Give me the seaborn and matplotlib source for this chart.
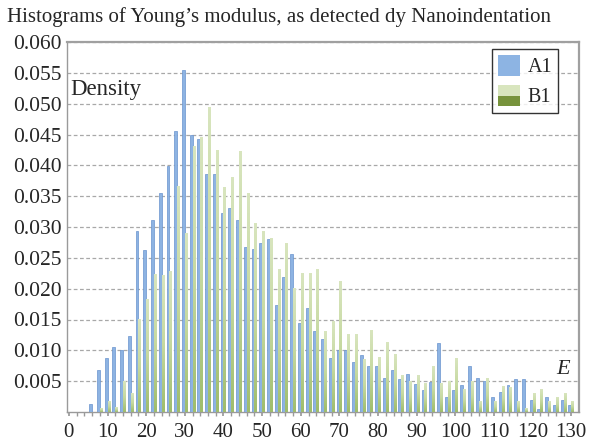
import numpy as np
import pandas as pd
import matplotlib
matplotlib.use("Agg")
import matplotlib.pyplot as plt
import seaborn as sns
from matplotlib.patches import Rectangle
from matplotlib.legend_handler import HandlerBase
from matplotlib.colors import LinearSegmentedColormap, to_rgb

# ---------------- data ----------------
E = list(range(0, 132, 2))
A1 = [0, 0, 0, 0.0013, 0.0068, 0.0088, 0.0105, 0.0100, 0.0124, 0.0293,
      0.0262, 0.0311, 0.0355, 0.0399, 0.0455, 0.0554, 0.0450, 0.0442, 0.0386, 0.0386,
      0.0323, 0.0331, 0.0312, 0.0268, 0.0264, 0.0274, 0.0280, 0.0174, 0.0219, 0.0256,
      0.0145, 0.0169, 0.0131, 0.0118, 0.0088, 0.0100, 0.0101, 0.0081, 0.0093, 0.0074,
      0.0074, 0.0055, 0.0068, 0.0054, 0.0062, 0.0046, 0.0036, 0.0048, 0.0112, 0.0024,
      0.0036, 0.0044, 0.0074, 0.0055, 0.0050, 0.0024, 0.0032, 0.0044, 0.0054, 0.0054,
      0.0019, 0.0005, 0.0024, 0.0012, 0.0019, 0.0012]
B1 = [0, 0, 0, 0, 0.0005, 0.0017, 0.0008, 0.0050, 0.0030, 0.0150,
      0.0183, 0.0223, 0.0222, 0.0228, 0.0365, 0.0290, 0.0431, 0.0445, 0.0493, 0.0424,
      0.0364, 0.0380, 0.0423, 0.0355, 0.0305, 0.0292, 0.0282, 0.0231, 0.0274, 0.0200,
      0.0224, 0.0224, 0.0231, 0.0130, 0.0147, 0.0211, 0.0126, 0.0126, 0.0085, 0.0132,
      0.0088, 0.0112, 0.0093, 0.0060, 0.0050, 0.0060, 0.0047, 0.0074, 0.0047, 0.0050,
      0.0086, 0.0036, 0.0050, 0.0017, 0.0055, 0.0017, 0.0042, 0.0040, 0.0017, 0.0006,
      0.0030, 0.0036, 0.0017, 0.0023, 0.0030, 0.0017]
SERIES = ["A1", "B1"]
Y_TICKS = [0.005, 0.010, 0.015, 0.020, 0.025, 0.030, 0.035, 0.040, 0.045, 0.050, 0.055, 0.060]
X_TICKS = list(range(0, 131, 10))
TITLE = "Histograms of Young\u2019s modulus, as detected dy Nanoindentation"

df = pd.DataFrame({
    "E": E + E,
    "Density": A1 + B1,
    "Series": [SERIES[0]] * len(E) + [SERIES[1]] * len(E),
})

# ---------------- style ----------------
sns.set_theme(style="white")
plt.rcParams['font.family'] = ['Liberation Serif', 'DejaVu Serif']

BLUE = "#8DB3E2"
BLUE_EDGE = "#6A94CE"
G_LIGHT = "#D8E5BE"
G_MID = "#C6D9A0"
G_DARK = "#9FBD6C"
GRAY = "#9A9A9A"

W, H = 590, 441
fig = plt.figure(figsize=(W / 100, H / 100), dpi=100)
ax = fig.add_axes([67 / W, 1 - 412 / H, (579 - 67) / W, (412 - 42) / H])

sns.barplot(data=df, x="E", y="Density", hue="Series", native_scale=True,
            palette={"A1": BLUE, "B1": G_MID}, saturation=1, width=0.74,
            errorbar=None, legend=False, ax=ax, zorder=3)

# style bars: blue with edge, green with vertical gradient
cmap = LinearSegmentedColormap.from_list("g", [G_DARK, G_MID, G_LIGHT])
grad = np.linspace(0, 1, 64).reshape(-1, 1)
blue_rgb = np.array(to_rgb(BLUE))
for p in list(ax.patches):
    fc = np.array(p.get_facecolor()[:3])
    if np.allclose(fc, blue_rgb, atol=0.02):
        p.set_edgecolor(BLUE_EDGE)
        p.set_linewidth(0.5)
    else:
        x0, w, h = p.get_x(), p.get_width(), p.get_height()
        p.set_visible(False)
        if h > 0:
            ax.imshow(grad, extent=[x0, x0 + w, 0, h], origin="lower", aspect="auto",
                      cmap=cmap, zorder=3, interpolation="bilinear")

ax.set_xlim(-0.5, 132)
ax.set_ylim(0, 0.060)
ax.set_aspect("auto")

ax.set_yticks(Y_TICKS)
ax.set_yticklabels([f"{v:.3f}" for v in Y_TICKS], fontsize=15.5)
ax.set_xticks(X_TICKS)
ax.set_xticklabels([str(v) for v in X_TICKS], fontsize=15)
ax.set_xticks(E, minor=True)
ax.tick_params(axis="x", which="both", direction="out", length=3, color=GRAY,
               bottom=True, pad=5)
ax.tick_params(axis="y", which="both", length=0, pad=4)
ax.set_xlabel("")
ax.set_ylabel("")

ax.yaxis.grid(True, linestyle=(0, (3, 2)), color="#A8A8A8", linewidth=0.9)
ax.xaxis.grid(False)
ax.set_axisbelow(True)
for s in ["left", "bottom"]:
    ax.spines[s].set_color(GRAY)
    ax.spines[s].set_linewidth(1.0)
for s in ["top", "right"]:
    ax.spines[s].set_color("#A0A0A0")
    ax.spines[s].set_linewidth(1.6)

# texts
fig.text(7 / W, 1 - 17 / H, TITLE, fontsize=15, ha="left", va="center")
fig.text(70 / W, 1 - 90 / H, "Density", fontsize=16.5, ha="left", va="center")
fig.text(563 / W, 1 - 370 / H, "E", fontsize=16, style="italic", ha="center", va="center")

# legend
class TwoTone(HandlerBase):
    def create_artists(self, legend, orig_handle, xdescent, ydescent, width, height,
                       fontsize, trans):
        top = Rectangle((-xdescent, -ydescent + height / 2), width, height / 2,
                        facecolor=G_LIGHT, edgecolor="none", transform=trans)
        bot = Rectangle((-xdescent, -ydescent), width, height / 2,
                        facecolor="#77933C", edgecolor="none", transform=trans)
        return [top, bot]

h_a = Rectangle((0, 0), 1, 1, facecolor="#8DB4E3", edgecolor="none")
h_b = Rectangle((0, 0), 1, 1, facecolor=G_LIGHT, edgecolor="none")
leg = ax.legend([h_a, h_b], SERIES, handler_map={h_b: TwoTone()},
                loc="upper right", bbox_to_anchor=(558 / W, 1 - 49 / H),
                bbox_transform=fig.transFigure, fontsize=14.5, frameon=True,
                fancybox=False, handlelength=1.1, handleheight=1.2,
                handletextpad=0.35, labelspacing=0.4, borderpad=0.3,
                borderaxespad=0)
leg.get_frame().set_edgecolor("black")
leg.get_frame().set_linewidth(1.0)
leg.set_zorder(10)

fig.savefig("out.png", dpi=100)
